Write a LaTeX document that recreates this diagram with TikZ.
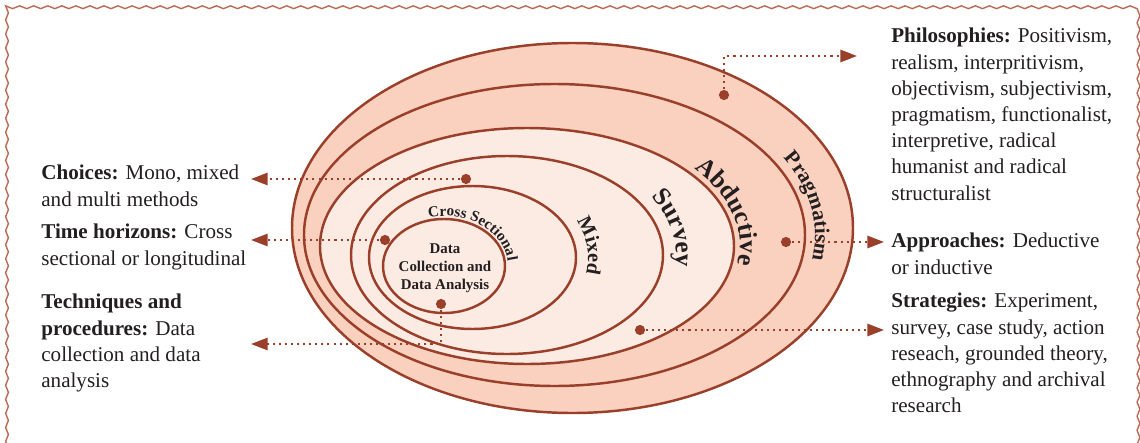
\documentclass[tikz,border=0pt]{standalone}
\usepackage{fontspec}
\setmainfont{Liberation Serif}
\usetikzlibrary{arrows.meta,positioning,decorations.pathmorphing,decorations.text}
\definecolor{rust}{HTML}{9A402A}
\definecolor{peach}{HTML}{FAD0BF}
\definecolor{blush}{HTML}{FCEBE3}
\definecolor{frame}{HTML}{BD6A55}
\definecolor{ink}{HTML}{231F20}
\tikzset{
  ring/.style={draw=rust,line width=1.4pt},
  layer/.style={ring,fill=peach},
  core/.style={ring,fill=blush},
  spot/.style={circle,fill=rust,inner sep=0pt,minimum size=5.8pt},
  flow/.style={draw=rust,line width=1.15pt,dash pattern=on 1.15pt off 2.3pt,-{Triangle[length=9.5pt,width=7pt]}},
  note/.style={anchor=north west,inner sep=0pt,align=left,text=ink,font=\fontsize{12}{14.9}\selectfont},
  curved/.style 2 args={decorate,decoration={text along path,text align=center,text={|\fontsize{#1}{#1}\selectfont\bfseries\color{ink}|#2}}},
  wavy/.style={draw=frame,line width=.8pt,decorate,decoration={snake,amplitude=.8pt,segment length=8pt}},
}

\begin{document}
\begin{tikzpicture}[x=0.02cm,y=-0.02cm]
  \useasboundingbox (0,0) rectangle (1140,443);
  \draw[wavy] (7,460) -- (7,8) -- (1138,8) -- (1138,460);

  \draw[layer] (572.5,228) ellipse [x radius=280.5,y radius=185];
  \draw[layer] (554.5,235) ellipse [x radius=250.5,y radius=151];
  \draw[core] (527,246) ellipse [x radius=207,y radius=118];
  \draw[core] (507,255) ellipse [x radius=156,y radius=99];
  \draw[core] (472.5,257.5) ellipse [x radius=103.5,y radius=71.5];
  \draw[core] (444,266) ellipse [x radius=61,y radius=47];

  \path[curved={12}{Pragmatism}] (554.5,235) ++(-39:260.5 and 161) arc[start angle=-39,end angle=21,x radius=260.5,y radius=161];
  \path[curved={14.5}{Abductive}] (527,246) ++(-44:213 and 124) arc[start angle=-44,end angle=16,x radius=213,y radius=124];
  \path[curved={14.5}{Survey}] (507,255) ++(-41:169 and 112) arc[start angle=-41,end angle=17,x radius=169,y radius=112];
  \path[curved={11.5}{Mixed}] (472.5,257.5) ++(-38:115.5 and 83.5) arc[start angle=-38,end angle=24,x radius=115.5,y radius=83.5];
  \path[curved={8.7}{Cross Sectional}] (444,266) ++(-118:64 and 50) arc[start angle=-118,end angle=12,x radius=64,y radius=50];

  \node[font=\fontsize{8.5}{10.3}\selectfont\bfseries,align=center,text=ink,inner sep=0pt] (data) at (445,268) {Data\\Collection and\\Data Analysis};

  \node[note] (philo) at (891,28) {\textbf{Philosophies:} Positivism,\\realism, interpritivism,\\objectivism, subjectivism,\\pragmatism, functionalist,\\interpretive, radical\\humanist and radical\\structuralist};
  \node[note] (appr) at (891,233) {\textbf{Approaches:} Deductive\\or inductive};
  \node[note] (strat) at (891,293) {\textbf{Strategies:} Experiment,\\survey, case study, action\\reseach, grounded theory,\\ethnography and archival\\research};
  \node[note] (choice) at (41,165) {\textbf{Choices:} Mono, mixed\\and multi methods};
  \node[note] (horizon) at (41,224) {\textbf{Time horizons:} Cross\\sectional or longitudinal};
  \node[note] (tech) at (41,294) {\textbf{Techniques and}\\\textbf{procedures:} Data\\collection and data\\analysis};

  \coordinate (tPhilo) at (857,56);
  \coordinate (tAppr) at (884,242);
  \coordinate (tStrat) at (884,330);
  \coordinate (tChoice) at (251,179);
  \coordinate (tHorizon) at (251,240);
  \coordinate (tTech) at (251,344);

  \draw[flow] (724,95) coordinate (dPhilo) |- (tPhilo);
  \draw[flow] (786,242) coordinate (dAppr) -- (tAppr);
  \draw[flow] (640,330) coordinate (dStrat) -- (tStrat);
  \draw[flow] (466,179) coordinate (dChoice) -- (tChoice);
  \draw[flow] (385,240) coordinate (dHorizon) -- (tHorizon);
  \draw[flow] (441,304) coordinate (dTech) |- (tTech);

  \foreach \d in {dPhilo,dAppr,dStrat,dChoice,dHorizon,dTech}
    \node[spot] at (\d) {};
\end{tikzpicture}
\end{document}
